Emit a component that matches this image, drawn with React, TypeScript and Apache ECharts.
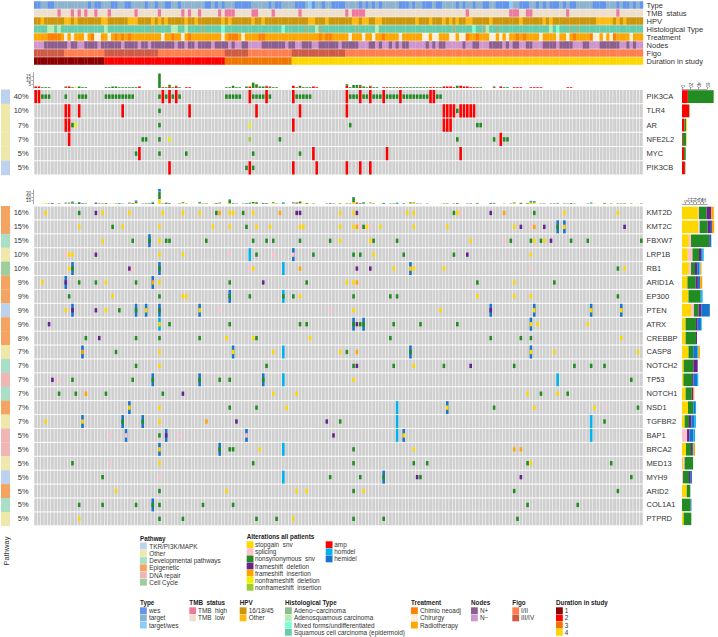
import React, { useEffect, useRef } from "react";
import * as echarts from "echarts";

const N = 182;
const FONT = "'Liberation Sans', Arimo, Helvetica, sans-serif";
const TEXT = "#333333";

const altCodes = ["s", "p", "n", "d", "i", "y", "g", "a", "o", "h"];
const altColors = ["#FFD700", "#FFC0CB", "#228B22", "#68228B", "#FFA500", "#EEEE00", "#9ACD32", "#FF0000", "#00B2EE", "#1874CD"];
const altFull = ["a", "o", "h"];

// annotation tracks: run lengths of [category code, number of patients]
const trackNames = ["Type", "TMB  status", "HPV", "Histological Type", "Treatment", "Nodes", "Figo", "Duration in study"];
const typeColors: Record<string, string> = { W: "#6495ED", T: "#8DB3CF", B: "#87CEFA" };
const tmbColors: Record<string, string> = { H: "#EE799F", L: "#EEDFCC" };
const hpvColors: Record<string, string> = { A: "#CD950C", O: "#FFB90F" };
const histColors: Record<string, string> = { C: "#8FBC8F", D: "#B4EEB4", M: "#7FFFD4", S: "#66CDAA" };
const treatColors: Record<string, string> = { N: "#FF7F00", H: "#FFEFD5", R: "#FFA500" };
const nodeColors: Record<string, string> = { P: "#8B6090", M: "#CD96CD" };
const figoColors: Record<string, string> = { I: "#FF7F50", V: "#CD5B45" };
const durColors: Record<string, string> = { "1": "#8B0000", "2": "#FF0000", "3": "#EE7600", "4": "#FFD700" };

const trackType = "W2 T2 W2 T10 W1 T1 W2 T3 W2 T2 W2 T4 W1 T2 W1 T2 W2 T2 W1 T2 T5 W2 T1 W1 T1 W1 T3 W5 T5 W1 T1 W2 T4 W3 T1 B1 W1 T2 W1 T2 W3 W1 T4 W1 T1 W1 T1 W1 T1 W1 T5 W3 T1 W1 T2 W3 T1 W2 T4 W1 T1 W1 T2 W1 T2 W2 T2 W4 B1 T2 W3 T2 W1 T1 W1 T1 W3 T1 W1 T1 W2 T5 W4 T3 W1 T1 W2 T1 W1 T1 W1";
const trackTmb = "L7 H1 L3 H1 L1 H1 L1 H1 L2 H1 L3 H1 L7 H1 L6 H1 L6 H1 L1 H1 L2 H1 L5 H1 L1 H3 L5 H2 L4 H1 L7 H1 L12 L1 H1 L1 H4 L30 H1 L8 L4 H3 L2 H2 L10 H1 L14 H1 L7";
const trackHpv = "A2 O1 A6 O2 A1 O1 A7 O2 A6 O3 A4 O1 A1 O1 A1 O1 A5 O1 A2 O1 A7 O1 A1 O1 A6 O1 A2 O1 A13 O2 A3 O1 A4 A3 O2 A1 O2 A2 O2 A10 O1 A3 O1 A3 O1 A1 O1 A1 O1 A2 O2 A5 O1 A1 A7 O1 A6 O1 A1 O1 A13 O5 A1 O1 A1 O1 A5";
const trackHist = "S4 D2 S1 D1 S13 D1 S13 C1 S5 D2 S2 D1 S4 C1 S5 M1 S17 M1 S6 C1 S2 D1 C1 S6 S4 C1 S5 D1 S22 C1 S5 M1 S2 C1 D1 S2 C1 S15 D1 S1 M1 S3 C1 S1 C1 S19";
const trackTreat = "R4 N4 R1 H1 R1 H1 R3 H1 R1 N1 H2 R2 H1 R1 N1 R1 N1 R1 N1 R9 H1 R2 N1 R2 H1 R1 N1 R9 H1 R1 N3 R1 H1 R4 N2 R2 R14 N1 R1 N2 R3 R2 H1 R3 H1 R2 H1 R2 N1 R4 H1 R6 H2 R1 H2 R3 H2 R1 H2 N1 R2 N1 R3 H2 R1 H1 R1 H1 R2 N1 R1 N1 R4 H1 R4 H1 R2 H1 R1 N1 R4 N1 H2 R1 H1 R1 H1 N1 R4 H1 R3";
const trackNodes = "M3 P7 M1 P2 M2 P4 M1 P6 M1 P4 M1 P2 M1 P7 M1 P2 M1 P2 M1 P4 M1 P4 M1 P1 M2 P2 M4 P7 M1 P2 M2 P3 M2 P6 M1 P5 M3 P2 M1 P1 M2 P1 M1 P1 M1 P2 M5 P1 M1 P1 M1 P2 M5 P1 M2 P2 M3 P2 P2 M1 P1 M1 P2 M2 P2 M3 P4 M1 P4 M3 P2 M3 P6 M2 P1 M1 P1 M2";
const trackFigo = "V9 I12 V16 I20 V7 I13 V16 I89";
const trackDur = "121 236 320 4105".length ? "1:21 2:36 3:20 4:105" : "";

// pathways per gene
const pathColors: Record<string, string> = { TKR: "#BCD2EE", Other: "#EEE8AA", Dev: "#A8DFC6", Epi: "#F4A460", Rep: "#EFB6B6", Cyc: "#9DCF9D" };

// first block
const upGenes = ["PIK3CA", "TLR4", "AR", "NFE2L2", "MYC", "PIK3CB"];
const upPct = ["40%", "10%", "7%", "7%", "5%", "5%"];
const upPath = ["TKR", "Other", "Other", "Other", "Other", "TKR"];
const PIK3CA = { a: [0, 1, 38, 40, 42, 64, 69, 77, 93, 97, 100, 104, 109, 118, 119], n: [2, 3, 4, 9, 13, 14, 15, 21, 22, 23, 24, 25, 26, 27, 28, 29, 37, 39, 41, 43, 57, 58, 59, 60, 61, 65, 66, 67, 68, 70, 78, 79, 80, 81, 82, 94, 95, 96, 98, 99, 101, 102, 103, 105, 106, 107, 108, 110, 111, 112, 113, 114, 115, 116, 117, 120, 121] };
const TLR4 = { a: [9, 10, 13, 26, 46, 66, 79, 93, 122, 123, 124, 125, 127, 128, 129, 130, 131], n: [37, 126] };
const AR = { a: [9, 10, 77, 122, 123, 124], n: [11, 37, 94, 132, 133], y: [12, 64] };
const NFE2L2 = { a: [10, 139], n: [32, 33, 37, 73, 126, 137, 140, 141], y: [40], g: [64] };
const MYC = { a: [31, 83, 105, 127], n: [30, 37, 45, 65, 79] };
const PIK3CB = { a: [40, 64, 77, 84, 93, 97, 100], n: [63, 65] };
const upRows = [PIK3CA, TLR4, AR, NFE2L2, MYC, PIK3CB];

// second block
const lowGenes = ["KMT2D", "KMT2C", "FBXW7", "LRP1B", "RB1", "ARID1A", "EP300", "PTEN", "ATRX", "CREBBP", "CASP8", "NOTCH2", "TP53", "NOTCH1", "NSD1", "TGFBR2", "BAP1", "BRCA2", "MED13", "MYH9", "ARID2", "COL1A1", "PTPRD"];
const lowPct = ["16%", "15%", "15%", "10%", "10%", "9%", "9%", "9%", "9%", "8%", "7%", "7%", "7%", "7%", "7%", "7%", "5%", "5%", "5%", "5%", "5%", "5%", "5%"];
const lowPath = ["Epi", "Epi", "Dev", "Other", "Cyc", "Epi", "Epi", "TKR", "Epi", "Epi", "Other", "Dev", "Rep", "Dev", "Epi", "Other", "Rep", "Rep", "Other", "TKR", "Epi", "Dev", "Other"];
const KMT2D = { s: [3, 20, 28, 38, 44, 49, 58, 59, 65, 91, 95, 111, 113, 126, 158, 174], n: [13, 54, 62, 125, 149], d: [18, 78, 79, 96, 136], i: [55, 73, 140], p: [127] };
const KMT2C = { s: [13, 26, 37, 53, 58, 66, 70, 79, 80, 91, 95, 99, 103, 113, 123, 143, 158], n: [23, 63, 98, 156], i: [96, 149], p: [100, 148, 97], d: [145, 152, 176], h: [156, 158] };
const FBXW7 = { s: [20, 37, 91, 100, 130, 149, 152], n: [29, 34, 39, 40, 51, 65, 69, 71, 79, 88, 101, 108, 142, 148, 151, 160, 165, 181], p: [140], d: [154], h: [34] };
const LRP1B = { s: [10, 11, 37, 44, 101, 148], n: [66, 83, 95, 97, 110, 125], p: [9, 58, 71, 77], d: [18, 129], o: [64], h: [77] };
const RB1 = { s: [10, 65, 107, 112, 113, 122, 176], n: [11, 37, 174], d: [28, 96, 100], p: [29, 64, 148], o: [74], i: [79], h: [11, 37, 112] };
const ARID1A = { s: [2, 21, 37, 93, 95, 143], n: [13, 18, 30, 58, 81, 132, 155], d: [9, 68], i: [35, 96], h: [9, 35] };
const EP300 = { s: [23, 44, 45, 79, 132, 143, 148], n: [10, 37, 58, 64, 74, 77, 95, 106, 108, 174], o: [74], h: [58] };
const PTEN = { s: [9, 21, 33, 49, 95, 121, 149, 166, 175], n: [25, 30, 37], d: [11, 18, 136], p: [55, 88], h: [11, 30, 33, 37, 49, 136, 149, 166, 175] };
const ATRX = { s: [37, 148, 150, 165], n: [40, 58, 79, 81, 95, 97, 98, 107, 115, 126], d: [4, 96], o: [37], h: [95, 98, 148] };
const CREBBP = { s: [57, 65, 82, 175], n: [15, 30, 37, 49, 66, 106, 136, 145, 148], d: [19] };
const CASP8 = { s: [37, 59, 71, 91, 148, 155, 180], n: [24, 93, 112], i: [14, 96], o: [74], h: [14, 59, 112, 148] };
const NOTCH2 = { s: [37, 113], n: [30, 69, 95, 107, 122, 143, 161, 166, 170], d: [96, 130] };
const TP53 = { s: [95], n: [11, 29, 35, 49, 55, 58, 68, 178], d: [5], p: [7], o: [74, 156], h: [35, 49, 68] };
const NOTCH1 = { s: [71, 78, 147, 156], n: [7, 12, 21, 38, 151, 159], d: [44], i: [15] };
const NSD1 = { s: [28, 37, 75, 123, 149, 167], n: [58, 66, 137, 180], p: [170], o: [108], h: [28, 123] };
const TGFBR2 = { s: [3, 14, 37], n: [26, 32, 91, 170], i: [51], d: [60, 87], o: [108, 166], h: [14, 26, 32] };
const BAP1 = { s: [110], n: [37], d: [39, 89], p: [22, 27, 43, 63], o: [108, 166], h: [27, 39, 63, 110] };
const BRCA2 = { s: [37, 67, 113], n: [55, 58, 59, 95], i: [143, 145], o: [74], h: [37, 55] };
const MED13 = { s: [37, 148], n: [11, 65, 95, 113, 117, 147, 172], p: [22] };
const MYH9 = { n: [20, 88, 97, 104, 115, 178], p: [37], d: [114, 145], o: [74], h: [104] };
const ARID2 = { s: [24, 57, 78, 81, 98], n: [37, 95, 143, 174] };
const COL1A1 = { n: [13, 20, 30, 35, 37, 50, 59, 147, 162], h: [35] };
const PTPRD = { s: [13, 77], n: [37, 44, 66, 72, 95, 104, 144] };
const lowRows = [KMT2D, KMT2C, FBXW7, LRP1B, RB1, ARID1A, EP300, PTEN, ATRX, CREBBP, CASP8, NOTCH2, TP53, NOTCH1, NSD1, TGFBR2, BAP1, BRCA2, MED13, MYH9, ARID2, COL1A1, PTPRD];

// top bars: [patient, count]
const upBarAmp = [[0, 2], [1, 2], [9, 1], [10, 2], [31, 2], [38, 1], [40, 2], [42, 2], [45, 1], [46, 1], [64, 2], [66, 1], [69, 2], [70, 1], [77, 3], [79, 1], [83, 2], [84, 1], [93, 3], [97, 2], [100, 2], [104, 1], [105, 1], [109, 1], [118, 1], [119, 1], [122, 2], [123, 2], [124, 2], [125, 1], [127, 3], [128, 2], [129, 2], [130, 1], [131, 1], [137, 1], [139, 2], [143, 1], [144, 1], [145, 1], [148, 1], [149, 1], [150, 1], [151, 1], [159, 1], [160, 1]];
const upBarSnv = [[2, 1], [3, 1], [4, 1], [9, 1], [11, 1], [13, 2], [14, 1], [15, 1], [21, 1], [22, 1], [23, 2], [24, 2], [25, 1], [26, 1], [27, 1], [28, 1], [29, 1], [30, 1], [37, 19], [39, 1], [40, 2], [41, 1], [42, 1], [43, 1], [57, 1], [58, 1], [59, 3], [60, 1], [61, 1], [63, 2], [65, 7], [66, 4], [67, 2], [68, 2], [69, 1], [70, 1], [71, 1], [72, 1], [78, 1], [79, 2], [80, 1], [81, 1], [82, 1], [93, 2], [94, 1], [95, 4], [96, 4], [97, 2], [98, 2], [99, 1], [100, 1], [101, 1], [102, 1], [106, 1], [107, 1], [108, 1], [110, 1], [111, 1], [112, 1], [113, 1], [114, 1], [115, 1], [116, 1], [117, 1], [120, 1], [121, 1], [126, 3], [132, 1], [133, 1], [137, 1], [140, 1], [141, 1]];
const upBarIndel = [[12, 1], [40, 1], [64, 1]];

const lowBarStop = [[2, 1], [3, 2], [9, 1], [10, 2], [11, 1], [20, 1], [21, 1], [23, 1], [28, 2], [30, 3], [33, 2], [37, 12], [38, 1], [44, 3], [49, 2], [53, 1], [57, 1], [58, 2], [59, 1], [65, 2], [66, 1], [67, 1], [70, 1], [71, 2], [75, 1], [77, 1], [78, 1], [79, 2], [80, 1], [81, 1], [82, 1], [91, 2], [93, 1], [95, 5], [98, 1], [99, 1], [100, 2], [101, 1], [103, 1], [107, 1], [111, 1], [112, 2], [113, 4], [121, 1], [122, 1], [123, 1], [130, 1], [132, 1], [143, 2], [147, 1], [148, 3], [149, 3], [150, 1], [155, 1], [156, 1], [158, 1], [165, 1], [166, 1], [167, 1], [174, 1], [175, 1], [176, 1], [180, 1]];
const lowBarSplice = [[7, 1], [9, 1], [22, 1], [27, 1], [29, 1], [37, 2], [43, 1], [55, 1], [63, 1], [64, 1], [71, 1], [77, 1], [88, 1], [96, 1], [100, 1], [127, 1], [140, 1], [148, 1], [170, 1]];
const lowBarNonsyn = [[7, 1], [10, 2], [11, 3], [12, 1], [13, 5], [15, 1], [18, 2], [20, 1], [21, 2], [24, 1], [25, 2], [29, 2], [30, 4], [34, 1], [35, 3], [37, 20], [38, 1], [39, 2], [40, 2], [43, 1], [44, 1], [45, 1], [49, 2], [50, 1], [51, 1], [54, 2], [55, 1], [58, 9], [59, 1], [62, 1], [63, 1], [64, 2], [65, 4], [66, 4], [69, 2], [71, 2], [72, 1], [74, 1], [77, 2], [78, 1], [79, 4], [81, 2], [83, 1], [88, 2], [91, 1], [93, 1], [94, 1], [95, 13], [97, 2], [98, 2], [101, 1], [104, 2], [106, 1], [107, 1], [108, 2], [110, 1], [112, 2], [113, 1], [115, 1], [117, 1], [122, 1], [125, 1], [126, 2], [132, 2], [136, 1], [137, 2], [142, 1], [143, 2], [145, 2], [147, 2], [148, 3], [149, 1], [151, 1], [155, 1], [159, 1], [160, 2], [161, 1], [165, 1], [170, 2], [172, 1], [174, 1], [178, 1], [181, 1]];
const lowBarFsdel = [[4, 1], [5, 2], [9, 1], [11, 1], [18, 2], [19, 1], [28, 1], [37, 1], [39, 1], [44, 1], [60, 1], [68, 1], [78, 2], [79, 1], [87, 1], [89, 1], [96, 2], [100, 1], [114, 1], [129, 1], [130, 1], [136, 1], [145, 1], [152, 1], [154, 1], [176, 1]];
const lowBarFsins = [[15, 1], [35, 1], [51, 1], [55, 1], [73, 1], [79, 1], [96, 3], [140, 1], [143, 1], [145, 1], [149, 1]];
const lowBarHomdel = [[37, 2], [64, 1], [74, 4], [108, 2], [156, 1], [166, 2]];
const lowBarHemidel = [[9, 1], [11, 2], [14, 2], [26, 1], [28, 1], [30, 3], [32, 1], [33, 1], [34, 1], [35, 2], [37, 6], [39, 1], [49, 2], [55, 1], [58, 2], [59, 1], [63, 1], [68, 2], [77, 1], [95, 2], [98, 2], [104, 1], [110, 1], [112, 1], [123, 1], [136, 1], [148, 2], [149, 3], [156, 1], [158, 1], [166, 1], [175, 1]];

// right-hand bars, per gene
const rUpAmp = [14, 17, 6, 2, 5, 7];
const rUpNonsyn = [62, 1, 4, 8, 4, 1];
const rUpNfdel = [0, 0, 2, 1, 0, 0];

const rStop = [22, 22.5, 9.5, 8, 9.5, 7.5, 9, 12.5, 5, 5, 9, 2.3, 2, 5, 8.3, 3.7, 0, 5.5, 1.8, 0, 6.5, 0, 2.3];
const rSplice = [1.5, 2, 3, 6.5, 3, 0, 0, 4, 0, 0, 0, 0, 0, 0, 0, 0, 7, 0, 1.8, 1.4, 0, 0, 0];
const rNonsyn = [10.5, 11, 25, 9, 5.5, 11.5, 16.5, 6.5, 14.3, 14.3, 6.5, 13.4, 12, 8.3, 7.4, 6, 0, 7, 11.8, 8.3, 5, 12, 10.6];
const rFsdel = [6.5, 4.5, 1, 3, 3, 3, 0, 4, 2.3, 1.4, 0, 6, 2, 2.3, 0, 3.2, 3.2, 1.4, 0, 2.3, 0, 0, 0];
const rHemidel = [0, 1.5, 2, 2, 3, 3, 1, 11.5, 4.6, 0, 5.5, 0, 5, 0, 2.3, 4, 5.5, 1.8, 0, 1.8, 0, 1, 0];
const rHomdel = [0, 0, 0, 1.5, 1.5, 0, 2, 0, 1, 0, 1.4, 0, 1.5, 0, 1.4, 2.3, 2.3, 0, 0, 0, 0, 0, 0];
const rFsins = [3.5, 3, 0, 0, 1.5, 3, 0, 0, 0, 0, 2.3, 0, 0, 1.4, 0, 0, 0, 2.3, 0, 0, 0, 0, 0];

// legends
const legPathway = [["TKR/PI3K/MAPK", pathColors.TKR], ["Other", pathColors.Other], ["Developmental pathways", pathColors.Dev], ["Epigenetic", pathColors.Epi], ["DNA repair", pathColors.Rep], ["Cell Cycle", pathColors.Cyc]];
const legAlt1 = [["stopgain  snv", altColors[0]], ["splicing", altColors[1]], ["nonsynonymous  snv", altColors[2]], ["frameshift  deletion", altColors[3]], ["frameshift  insertion", altColors[4]], ["nonframeshift  deletion", altColors[5]], ["nonframeshift  insertion", altColors[6]]];
const legAlt2 = [["amp", altColors[7]], ["homdel", altColors[8]], ["hemidel", altColors[9]]];
const legType = [["wes", typeColors.W], ["target", typeColors.T], ["target/wes", typeColors.B]];
const legTmb = [["TMB  high", tmbColors.H], ["TMB  low", tmbColors.L]];
const legHpv = [["16/18/45", hpvColors.A], ["Other", hpvColors.O]];
const legHist = [["Adeno\u2212carcinoma", histColors.C], ["Adenosquamous carcinoma", histColors.D], ["Mixed forms/undifferentiated", histColors.M], ["Squamous cell carcinoma (epidermoid)", histColors.S]];
const legTreat = [["Chimio neoadj", treatColors.N], ["Chirurgy", treatColors.H], ["Radiotherapy", treatColors.R]];
const legNodes = [["N+", nodeColors.P], ["N\u2212", nodeColors.M]];
const legFigo = [["I/II", figoColors.I], ["III/IV", figoColors.V]];
const legDur = [["1", durColors["1"]], ["2", durColors["2"]], ["3", durColors["3"]], ["4", durColors["4"]]];

function expand(rle: string): string[] {
  const out: string[] = [];
  rle.split(" ").forEach((t) => {
    const parts = t.includes(":") ? t.split(":") : [t[0], t.slice(1)];
    for (let i = 0; i < Number(parts[1]); i++) out.push(parts[0]);
  });
  return out;
}
function spread(pairs: number[][]): number[] {
  const a = new Array(N).fill(0);
  pairs.forEach(([c, v]) => (a[c] = v));
  return a;
}
function altCells(rows: any[]) {
  const full: number[][] = [];
  const snv: number[][] = [];
  rows.forEach((r, row) => {
    Object.keys(r).forEach((k) => {
      (r[k] as number[]).forEach((c) => {
        (altFull.includes(k) ? full : snv).push([c, row, altCodes.indexOf(k)]);
      });
    });
  });
  return [...full, ...snv];
}

export default function App() {
  const ref = useRef<HTMLDivElement>(null);
  useEffect(() => {
    const chart = echarts.init(ref.current!, undefined, { renderer: "svg" });
    const samples = Array.from({ length: N }, (_, i) => String(i + 1));

    const trackSrc: [string, Record<string, string>][] = [
      [trackType, typeColors], [trackTmb, tmbColors], [trackHpv, hpvColors], [trackHist, histColors],
      [trackTreat, treatColors], [trackNodes, nodeColors], [trackFigo, figoColors], [trackDur, durColors],
    ];
    const palette: string[] = [];
    const trackData: number[][] = [];
    trackSrc.forEach(([rle, colors], row) => {
      expand(rle).forEach((code, col) => {
        const c = colors[code];
        let idx = palette.indexOf(c);
        if (idx < 0) { palette.push(c); idx = palette.length - 1; }
        trackData.push([col, row, idx]);
      });
    });
    const trackRender = (_: any, api: any) => {
      const p = api.coord([api.value(0), api.value(1)]);
      const s = api.size([1, 1]);
      return { type: "rect", shape: { x: p[0] - s[0] / 2, y: p[1] - s[1] / 2 + 0.25, width: s[0] + 0.2, height: s[1] - 0.5 }, style: { fill: palette[api.value(2)] } };
    };
    const bgRender = (_: any, api: any) => {
      const p = api.coord([api.value(0), api.value(1)]);
      const s = api.size([1, 1]);
      const h = s[1] - 1;
      return { type: "rect", shape: { x: p[0] - s[0] / 2 + 0.25, y: p[1] - h / 2, width: s[0] - 0.5, height: h }, style: { fill: "#CFCFCF" } };
    };
    const altRender = (_: any, api: any) => {
      const p = api.coord([api.value(0), api.value(1)]);
      const s = api.size([1, 1]);
      const k = api.value(2);
      const isFull = altFull.includes(altCodes[k]);
      const h = isFull ? s[1] - 1 : (s[1] - 1) / 3;
      const w = 2.6;
      return { type: "rect", shape: { x: p[0] - w / 2, y: p[1] - h / 2, width: w, height: h }, style: { fill: altColors[k] } };
    };
    const bgCells = (rows: number) => {
      const d: number[][] = [];
      for (let r = 0; r < rows; r++) for (let c = 0; c < N; c++) d.push([c, r]);
      return d;
    };
    const stripRender = (paths: string[]) => (_: any, api: any) => {
      const row = api.value(1);
      const p = api.coord([0, row]);
      const s = api.size([1, 1]);
      return { type: "rect", shape: { x: p[0] - s[0] / 2, y: p[1] - s[1] / 2, width: s[0], height: s[1] + 0.2 }, style: { fill: pathColors[paths[row]] } };
    };
    const stripCells = (paths: string[]) => paths.map((_, i) => [0, i]);

    const catX = (gridIndex: number) => ({ type: "category", gridIndex, data: samples, show: false, boundaryGap: true });
    const labelAxis = (gridIndex: number, data: string[], position: string, margin: number, fontSize: number) => ({
      type: "category", gridIndex, data, position, inverse: true,
      axisLine: { show: false }, axisTick: { show: false }, splitLine: { show: false },
      axisLabel: { show: true, margin, fontSize, fontFamily: FONT, color: TEXT, interval: 0 },
    });
    const smallVal = (gridIndex: number, max: number, interval: number) => ({
      type: "value", gridIndex, min: 0, max, interval, position: "left", offset: 1,
      axisLine: { show: true, lineStyle: { color: "#555", width: 0.5 } },
      axisTick: { show: true, length: 1.5, lineStyle: { color: "#555", width: 0.5 } },
      splitLine: { show: false },
      axisLabel: { fontSize: 4.5, margin: 2, color: "#444", fontFamily: FONT },
    });
    const topVal = (gridIndex: number, max: number, interval: number, offset: number) => ({
      type: "value", gridIndex, min: 0, max, interval, position: "top", offset,
      axisLine: { show: true, onZero: false, lineStyle: { color: "#555", width: 0.5 } },
      axisTick: { show: true, length: 2, lineStyle: { color: "#555", width: 0.5 } },
      splitLine: { show: false },
      axisLabel: { fontSize: 4.5, margin: 1.5, rotate: 90, color: "#444", fontFamily: FONT },
    });
    const hiddenCat = (gridIndex: number, data: string[]) => ({ type: "category", gridIndex, data, inverse: true, show: false });

    const topBar = (x: number, y: number, stack: string, color: string, pairs: number[][]) => ({
      type: "bar", xAxisIndex: x, yAxisIndex: y, stack, data: spread(pairs), barWidth: 2.6, clip: false,
      itemStyle: { color }, silent: true,
    });
    const rightBar = (x: number, y: number, stack: string, color: string, data: number[]) => ({
      type: "bar", xAxisIndex: x, yAxisIndex: y, stack, data, barWidth: "90%", clip: false,
      itemStyle: { color }, silent: true,
    });
    const c = (code: string) => altColors[altCodes.indexOf(code)];
    const custom = (name: string, x: number, y: number, data: any[], renderItem: any) => ({
      type: "custom", name, coordinateSystem: "cartesian2d", xAxisIndex: x, yAxisIndex: y, data, renderItem, encode: { x: 0, y: 1 }, silent: true,
    });

    // legends
    const graphic: any[] = [];
    const addTitle = (t: string, x: number, y: number) =>
      graphic.push({ type: "text", x, y, style: { text: t, fontSize: 6.3, fontWeight: "bold", fontFamily: FONT, fill: "#222", verticalAlign: "middle", align: "left" } });
    const addRows = (rows: string[][], x: number, y0: number, step: number, textDx: number) => {
      rows.forEach(([label, col], i) => {
        const y = y0 + i * step;
        graphic.push({ type: "rect", shape: { x, y: y - 3.4, width: 6.8, height: 6.8 }, style: { fill: col } });
        graphic.push({ type: "text", x: x + textDx, y, style: { text: label, fontSize: 6.4, fontFamily: FONT, fill: TEXT, verticalAlign: "middle", align: "left" } });
      });
    };
    addTitle("Pathway", 140, 538);
    addRows(legPathway, 140, 546, 7.25, 9.3);
    addTitle("Alterations all patients", 246.7, 536.3);
    addRows(legAlt1, 246.7, 544.7, 7.1, 8.3);
    addRows(legAlt2, 325.7, 544.7, 7.1, 8.6);
    const lt = 602, l0 = 610.7, ls = 7.2;
    addTitle("Type", 140, lt); addRows(legType, 140, l0, ls, 9);
    addTitle("TMB  status", 189.3, lt); addRows(legTmb, 189.3, l0, ls, 8.7);
    addTitle("HPV", 239.7, lt); addRows(legHpv, 239.7, l0, ls, 9);
    addTitle("Histological Type", 285, lt); addRows(legHist, 285, l0, ls, 9);
    addTitle("Treatment", 411, lt); addRows(legTreat, 411, l0, ls, 9);
    addTitle("Nodes", 471, lt); addRows(legNodes, 471, l0, ls, 9);
    addTitle("Figo", 512.3, lt); addRows(legFigo, 512.3, l0, ls, 8.7);
    addTitle("Duration in study", 556, lt); addRows(legDur, 556, l0, ls, 8.7);
    graphic.push({ type: "text", x: 6, y: 551, rotation: Math.PI / 2, style: { text: "Pathway", fontSize: 7.5, fontFamily: FONT, fill: TEXT, align: "center", verticalAlign: "middle" } });

    const option: any = {
      animation: false,
      grid: [
        { left: 34, top: 1, width: 609, height: 64 },
        { left: 34, top: 72.7, width: 609, height: 15.3 },
        { left: 34, top: 89.5, width: 609, height: 85.5 },
        { left: 682, top: 89.5, width: 25, height: 85.5 },
        { left: 34, top: 190, width: 609, height: 14 },
        { left: 34, top: 206, width: 609, height: 319.8 },
        { left: 682, top: 206, width: 25.3, height: 319.8 },
        { left: 1, top: 89.5, width: 9, height: 85.5 },
        { left: 1, top: 206, width: 9, height: 319.8 },
      ],
      xAxis: [
        catX(0), catX(1), catX(2),
        topVal(3, 60, 20, 0.5),
        catX(4), catX(5),
        topVal(6, 35, 5, 2),
        { type: "category", gridIndex: 7, data: ["p"], show: false },
        { type: "category", gridIndex: 8, data: ["p"], show: false },
      ],
      yAxis: [
        labelAxis(0, trackNames, "right", 3.6, 7.5),
        smallVal(1, 20, 5),
        labelAxis(2, upGenes, "right", 3.6, 7.5),
        labelAxis(2, upPct, "left", 5.3, 7.5),
        hiddenCat(3, upGenes),
        smallVal(4, 40, 10),
        labelAxis(5, lowGenes, "right", 3.6, 7.5),
        labelAxis(5, lowPct, "left", 5.3, 7.5),
        hiddenCat(6, lowGenes),
        hiddenCat(7, upGenes),
        hiddenCat(8, lowGenes),
      ],
      series: [
        custom("tracks", 0, 0, trackData, trackRender),
        topBar(1, 1, "u", c("a"), upBarAmp),
        topBar(1, 1, "u", c("n"), upBarSnv),
        topBar(1, 1, "u", c("y"), upBarIndel),
        custom("bgUp", 2, 2, bgCells(6), bgRender),
        custom("altUp", 2, 2, altCells(upRows), altRender),
        rightBar(3, 4, "ru", c("a"), rUpAmp),
        rightBar(3, 4, "ru", c("n"), rUpNonsyn),
        rightBar(3, 4, "ru", c("y"), rUpNfdel),
        topBar(4, 5, "l", c("s"), lowBarStop),
        topBar(4, 5, "l", c("p"), lowBarSplice),
        topBar(4, 5, "l", c("n"), lowBarNonsyn),
        topBar(4, 5, "l", c("d"), lowBarFsdel),
        topBar(4, 5, "l", c("i"), lowBarFsins),
        topBar(4, 5, "l", c("o"), lowBarHomdel),
        topBar(4, 5, "l", c("h"), lowBarHemidel),
        custom("bgLow", 5, 6, bgCells(23), bgRender),
        custom("altLow", 5, 6, altCells(lowRows), altRender),
        rightBar(6, 8, "rl", c("s"), rStop),
        rightBar(6, 8, "rl", c("p"), rSplice),
        rightBar(6, 8, "rl", c("n"), rNonsyn),
        rightBar(6, 8, "rl", c("d"), rFsdel),
        rightBar(6, 8, "rl", c("h"), rHemidel),
        rightBar(6, 8, "rl", c("o"), rHomdel),
        rightBar(6, 8, "rl", c("i"), rFsins),
        custom("stripUp", 7, 9, stripCells(upPath), stripRender(upPath)),
        custom("stripLow", 8, 10, stripCells(lowPath), stripRender(lowPath)),
      ],
      graphic,
    };
    chart.setOption(option);
    return () => chart.dispose();
  }, []);
  return <div ref={ref} style={{ position: "absolute", left: 0, top: 0, width: 718, height: 637, background: "#fff" }} />;
}
